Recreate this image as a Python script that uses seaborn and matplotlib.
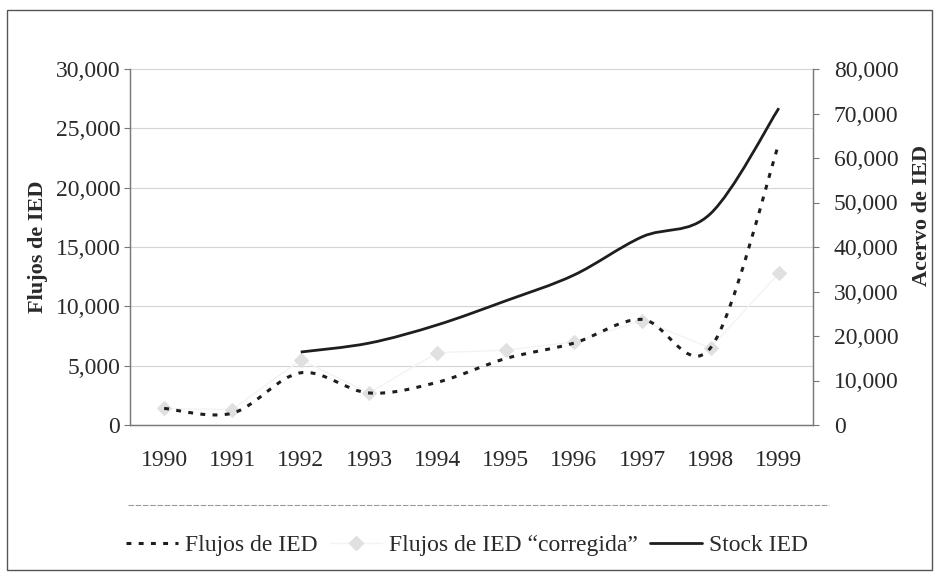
import numpy as np
import matplotlib
matplotlib.use('Agg')
import matplotlib.pyplot as plt
import seaborn as sns
from matplotlib.path import Path
from matplotlib.patches import PathPatch, Rectangle
from matplotlib.lines import Line2D
from matplotlib.ticker import FuncFormatter, MultipleLocator

# values (millones de dolares)
years = ['1990', '1991', '1992', '1993', '1994', '1995', '1996', '1997', '1998', '1999']
flujos = [1400, 1000, 4400, 2700, 3600, 5600, 6900, 8900, 6500, 23700]
flujos_corr = [1400, 1300, 5500, 2700, 6100, 6300, 7000, 8800, 6500, 12800]
stock = [np.nan, np.nan, 16400, 18400, 22500, 27900, 33700, 42300, 47500, 71200]

sns.set_style('white')
plt.rcParams['font.family'] = ['Liberation Serif', 'DejaVu Serif']
TXT = '#2a2a2a'


def smooth_path(x, y):
    # Excel-like smoothed line: Catmull-Rom segments as cubic Bezier curves
    pts = [(a, b) for a, b in zip(x, y) if not np.isnan(b)]
    pts = np.array(pts, dtype=float)
    verts = [tuple(pts[0])]
    codes = [Path.MOVETO]
    n = len(pts)
    for i in range(n - 1):
        p0 = pts[max(i - 1, 0)]
        p1 = pts[i]
        p2 = pts[i + 1]
        p3 = pts[min(i + 2, n - 1)]
        c1 = p1 + (p2 - p0) / 6.0
        c2 = p2 - (p3 - p1) / 6.0
        verts += [tuple(c1), tuple(c2), tuple(p2)]
        codes += [Path.CURVE4] * 3
    return Path(verts, codes)


fig = plt.figure(figsize=(9.34, 5.73), dpi=100)
ax = fig.add_axes([130 / 934, 1 - 425 / 573, 683 / 934, 356 / 573])
ax2 = ax.twinx()

xs = np.arange(len(years))

# light "corregida" series first, underneath
sns.lineplot(x=xs, y=flujos_corr, ax=ax, color='#f3f3f3', linewidth=1.0,
             marker='D', markersize=7, markerfacecolor='#e0e0e0',
             markeredgecolor='#e0e0e0', zorder=2)

ax.add_patch(PathPatch(smooth_path(xs, flujos), fill=False, edgecolor='#1e1e1e',
                       linewidth=2.2, linestyle=(0, (1.6, 2.4)), zorder=3))
ax2.add_patch(PathPatch(smooth_path(xs, stock), fill=False, edgecolor='#1e1e1e',
                        linewidth=2.0, zorder=3))

ax.set_xlim(-0.5, len(years) - 0.5)
ax.set_ylim(0, 30000)
ax2.set_ylim(0, 80000)
ax.yaxis.set_major_locator(MultipleLocator(5000))
ax2.yaxis.set_major_locator(MultipleLocator(10000))
fmt = FuncFormatter(lambda v, p: f'{v:,.0f}')
ax.yaxis.set_major_formatter(fmt)
ax2.yaxis.set_major_formatter(fmt)

ax.set_xticks(xs)
ax.set_xticklabels(years)
ax.set_xticks(np.arange(-0.5, len(years), 1.0), minor=True)
ax.tick_params(axis='x', which='major', length=0, pad=18, labelsize=17, labelcolor=TXT)
ax.tick_params(axis='x', which='minor', length=4, width=0.8, color='#888888', direction='out')
ax.tick_params(axis='y', length=4, width=0.8, color='#777777', pad=3, labelsize=17,
               labelcolor=TXT, direction='out')
ax2.tick_params(axis='y', length=4, width=0.8, color='#777777', pad=11, labelsize=17,
                labelcolor=TXT, direction='out')

ax.yaxis.grid(True, color='#d4d4d4', linewidth=0.8)
ax.set_axisbelow(True)

for a in (ax, ax2):
    a.spines['top'].set_visible(False)
    for s in ('left', 'right', 'bottom'):
        a.spines[s].set_color('#7a7a7a')
        a.spines[s].set_linewidth(0.9)

ax.set_ylabel('Flujos de IED', fontsize=16, fontweight='bold', color=TXT)
ax.yaxis.set_label_coords(-0.12, 0.5)
ax2.set_ylabel('Acervo de IED', fontsize=16, fontweight='bold', color=TXT)
ax2.yaxis.set_label_coords(1.145, 0.59)

handles = [
    Line2D([], [], color='#1e1e1e', linewidth=2.2, linestyle=(0, (1.6, 2.4))),
    Line2D([], [], color='#f3f3f3', linewidth=1.0, marker='D', markersize=7,
           markerfacecolor='#e0e0e0', markeredgecolor='#e0e0e0'),
    Line2D([], [], color='#1e1e1e', linewidth=2.0),
]
labels = ['Flujos de IED', 'Flujos de IED \u201ccorregida\u201d', 'Stock IED']
fig.legend(handles, labels, loc='center', bbox_to_anchor=(0.5, 1 - 545 / 573),
           ncol=3, frameon=False, fontsize=17, handlelength=2.2,
           handletextpad=0.3, columnspacing=0.5, labelcolor=TXT)

# separator above legend and outer frame of the scanned figure
fig.add_artist(Line2D([128 / 934, 829 / 934], [1 - 505 / 573, 1 - 505 / 573],
                      color='#9a9a9a', linewidth=0.8, linestyle=(0, (5, 1.5))))
fig.add_artist(Rectangle((7 / 934, 1 - 570 / 573), 925 / 934, 560 / 573,
                         fill=False, edgecolor='#555555', linewidth=1.0))

fig.savefig('out.png', dpi=100)
